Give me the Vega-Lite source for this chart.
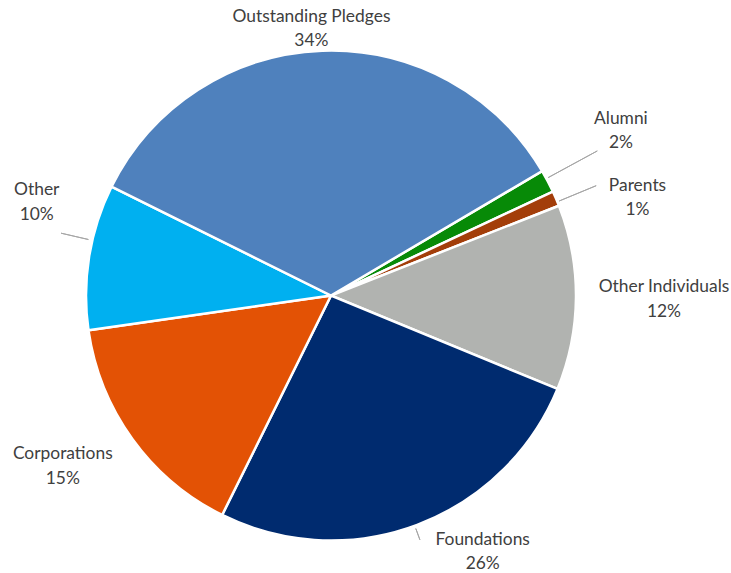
{
  "$schema": "https://vega.github.io/schema/vega-lite/v6.json",
  "width": 662,
  "height": 551,
  "autosize": {"type": "none"},
  "padding": {"left": 0, "top": 20, "right": 69, "bottom": 2},
  "background": "white",
  "view": {"stroke": null},
  "data": {
    "values": [
      {"cat": "Alumni", "value": 1.5, "idx": 1, "label": "Alumni\n2%"},
      {"cat": "Parents", "value": 1.0, "idx": 2, "label": "Parents\n1%"},
      {"cat": "Other Individuals", "value": 12.2, "idx": 3, "label": "Other Individuals\n12%"},
      {"cat": "Foundations", "value": 26.1, "idx": 4, "label": "Foundations\n26%"},
      {"cat": "Corporations", "value": 15.4, "idx": 5, "label": "Corporations\n15%"},
      {"cat": "Other", "value": 9.6, "idx": 6, "label": "Other\n10%"},
      {"cat": "Outstanding Pledges", "value": 34.2, "idx": 7, "label": "Outstanding Pledges\n34%"}
    ]
  },
  "encoding": {
    "theta": {"field": "value", "type": "quantitative", "stack": true, "scale": {"range": [1.0385, 7.3217]}},
    "order": {"field": "idx", "type": "quantitative"}
  },
  "layer": [
    {
      "mark": {"type": "arc", "outerRadius": 245, "stroke": "white", "strokeWidth": 2.5},
      "encoding": {
        "color": {
          "field": "cat", "type": "nominal", "legend": null,
          "scale": {
            "domain": ["Alumni", "Parents", "Other Individuals", "Foundations", "Corporations", "Other", "Outstanding Pledges"],
            "range": ["#078A07", "#A33E0A", "#B1B3B0", "#002B6F", "#E35205", "#00B0F0", "#4F81BD"]
          }
        }
      }
    },
    {
      "mark": {"type": "arc", "filled": false, "stroke": "#A6A6A6", "strokeWidth": 1, "innerRadius": 247, "outerRadius": 303, "padAngle": 1.4, "thetaOffset": -0.0122},
      "encoding": {"detail": {"field": "cat"}, "strokeOpacity": {"condition": {"test": "datum.cat === 'Alumni'", "value": 1}, "value": 0}}
    },
    {
      "mark": {"type": "arc", "filled": false, "stroke": "#A6A6A6", "strokeWidth": 1, "innerRadius": 247, "outerRadius": 287, "padAngle": 1.4, "thetaOffset": 0.014},
      "encoding": {"detail": {"field": "cat"}, "strokeOpacity": {"condition": {"test": "datum.cat === 'Parents'", "value": 1}, "value": 0}}
    },
    {
      "mark": {"type": "arc", "filled": false, "stroke": "#A6A6A6", "strokeWidth": 1, "innerRadius": 249, "outerRadius": 277, "padAngle": 1.4, "thetaOffset": 0.068},
      "encoding": {"detail": {"field": "cat"}, "strokeOpacity": {"condition": {"test": "datum.cat === 'Other'", "value": 1}, "value": 0}}
    },
    {
      "mark": {"type": "arc", "filled": false, "stroke": "#A6A6A6", "strokeWidth": 1, "innerRadius": 248, "outerRadius": 260, "padAngle": 1.4, "thetaOffset": 0.0105},
      "encoding": {"detail": {"field": "cat"}, "strokeOpacity": {"condition": {"test": "datum.cat === 'Foundations'", "value": 1}, "value": 0}}
    },
    {
      "mark": {"type": "text", "radius": 330, "dx": -2, "dy": -23, "font": "Lato", "fontSize": 17.4, "color": "#404040", "lineBreak": "\n", "lineHeight": 24.5, "align": "center", "baseline": "middle"},
      "encoding": {"text": {"field": "label"}, "detail": {"field": "cat"}, "opacity": {"condition": {"test": "datum.cat === 'Alumni'", "value": 1}, "value": 0}}
    },
    {
      "mark": {"type": "text", "radius": 325, "dx": 8, "dy": 19, "font": "Lato", "fontSize": 17.4, "color": "#404040", "lineBreak": "\n", "lineHeight": 24.5, "align": "center", "baseline": "middle"},
      "encoding": {"text": {"field": "label"}, "detail": {"field": "cat"}, "opacity": {"condition": {"test": "datum.cat === 'Parents'", "value": 1}, "value": 0}}
    },
    {
      "mark": {"type": "text", "radius": 333, "dx": 0, "dy": -11, "font": "Lato", "fontSize": 17.4, "color": "#404040", "lineBreak": "\n", "lineHeight": 24.5, "align": "center", "baseline": "middle"},
      "encoding": {"text": {"field": "label"}, "detail": {"field": "cat"}, "opacity": {"condition": {"test": "datum.cat === 'Other Individuals'", "value": 1}, "value": 0}}
    },
    {
      "mark": {"type": "text", "radius": 272, "dx": 56, "dy": -10, "font": "Lato", "fontSize": 17.4, "color": "#404040", "lineBreak": "\n", "lineHeight": 24, "align": "center", "baseline": "middle"},
      "encoding": {"text": {"field": "label"}, "detail": {"field": "cat"}, "opacity": {"condition": {"test": "datum.cat === 'Foundations'", "value": 1}, "value": 0}}
    },
    {
      "mark": {"type": "text", "radius": 320, "dx": -9, "dy": -29, "font": "Lato", "fontSize": 17.4, "color": "#404040", "lineBreak": "\n", "lineHeight": 24.5, "align": "center", "baseline": "middle"},
      "encoding": {"text": {"field": "label"}, "detail": {"field": "cat"}, "opacity": {"condition": {"test": "datum.cat === 'Corporations'", "value": 1}, "value": 0}}
    },
    {
      "mark": {"type": "text", "radius": 298, "dx": 0, "dy": -58, "font": "Lato", "fontSize": 17.4, "color": "#404040", "lineBreak": "\n", "lineHeight": 24.5, "align": "center", "baseline": "middle"},
      "encoding": {"text": {"field": "label"}, "detail": {"field": "cat"}, "opacity": {"condition": {"test": "datum.cat === 'Other'", "value": 1}, "value": 0}}
    },
    {
      "mark": {"type": "text", "radius": 267, "dx": -10, "dy": -12, "font": "Lato", "fontSize": 17.4, "color": "#404040", "lineBreak": "\n", "lineHeight": 24.5, "align": "center", "baseline": "middle"},
      "encoding": {"text": {"field": "label"}, "detail": {"field": "cat"}, "opacity": {"condition": {"test": "datum.cat === 'Outstanding Pledges'", "value": 1}, "value": 0}}
    }
  ]
}
